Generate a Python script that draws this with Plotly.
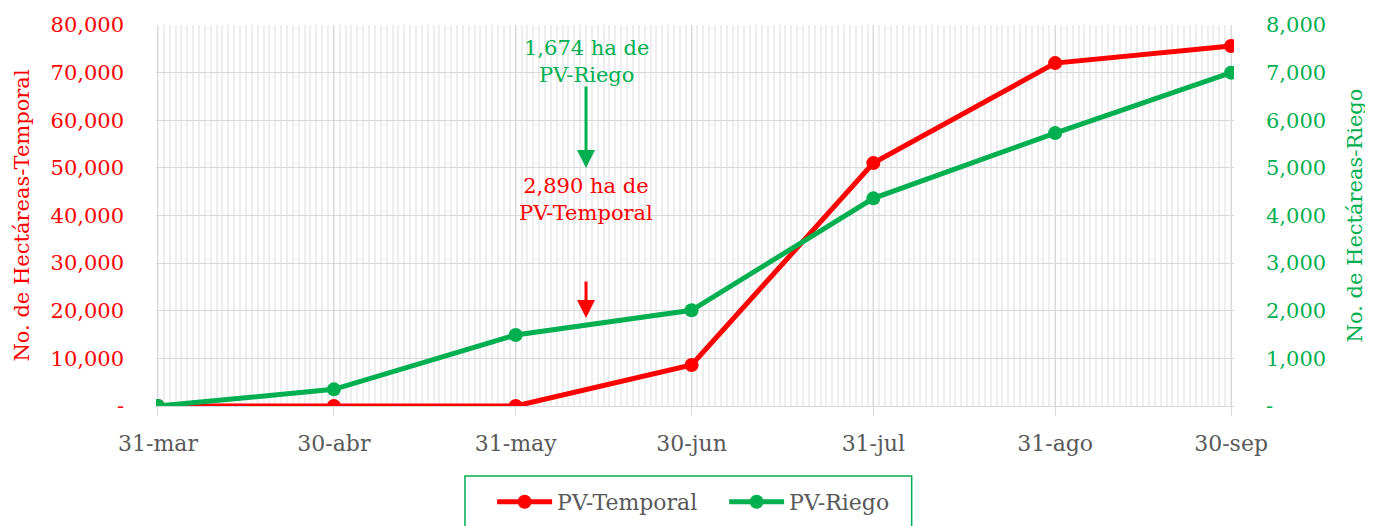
import plotly.graph_objects as go

# ---- data ----
dates = ['2023-03-31', '2023-04-30', '2023-05-31', '2023-06-30',
         '2023-07-31', '2023-08-31', '2023-09-30']
date_labels = ['31-mar', '30-abr', '31-may', '30-jun', '31-jul', '31-ago', '30-sep']
temporal = [0, 0, 0, 8600, 51000, 72000, 75600]
riego = [0, 350, 1490, 2010, 4360, 5730, 7000]

left_ticks = [0, 10000, 20000, 30000, 40000, 50000, 60000, 70000, 80000]
left_labels = ['-', '10,000', '20,000', '30,000', '40,000', '50,000', '60,000', '70,000', '80,000']
right_ticks = [0, 1000, 2000, 3000, 4000, 5000, 6000, 7000, 8000]
right_labels = ['-', '1,000', '2,000', '3,000', '4,000', '5,000', '6,000', '7,000', '8,000']

RED = '#FF0000'
GREEN = '#00B050'
GREY = '#595959'
FONT = 'DejaVu Serif'
FS = 21

fig = go.Figure()
fig.add_trace(go.Scatter(x=dates, y=temporal, name='PV-Temporal', mode='lines+markers',
                         line=dict(color=RED, width=5), marker=dict(color=RED, size=14)))
fig.add_trace(go.Scatter(x=dates, y=riego, name='PV-Riego', mode='lines+markers', yaxis='y2',
                         line=dict(color=GREEN, width=5), marker=dict(color=GREEN, size=14)))

fig.update_layout(
    width=1365, height=518,
    margin=dict(l=148, r=139, t=17, b=120, autoexpand=False),
    paper_bgcolor='white', plot_bgcolor='white',
    font=dict(family=FONT, size=FS, color=GREY),
    xaxis=dict(
        type='date', range=['2023-03-30 16:00', '2023-09-30 12:00'],
        tickvals=dates, ticktext=date_labels, automargin=False,
        showgrid=True, gridcolor='#d9d9d9', gridwidth=1,
        minor=dict(dtick=86400000, tick0='2023-03-31', showgrid=True,
                   gridcolor='#eeeeee', gridwidth=2),
        ticks='outside', ticklen=9, tickcolor='#d9d9d9',
        showline=True, linecolor='#d9d9d9',
        tickfont=dict(color=GREY, size=22), ticklabelstandoff=9,
    ),
    yaxis=dict(
        range=[0, 80000], tickvals=left_ticks, ticktext=left_labels, automargin=False,
        showgrid=True, gridcolor='#d9d9d9', gridwidth=1, zeroline=False,
        tickfont=dict(color=RED, size=FS), ticklabelstandoff=31,
        title=dict(text='No. de Hectáreas-Temporal', font=dict(color=RED, size=FS)),
    ),
    yaxis2=dict(
        range=[0, 8000], tickvals=right_ticks, ticktext=right_labels, automargin=False,
        overlaying='y', side='right', showgrid=False, zeroline=False,
        tickfont=dict(color=GREEN, size=FS), ticklabelstandoff=31,
        title=dict(text='No. de Hectáreas-Riego', font=dict(color=GREEN, size=FS), standoff=22),
    ),
    showlegend=True,
    legend=dict(orientation='h', x=0.527, xanchor='center', y=-0.252, yanchor='middle',
                font=dict(color=GREY, size=22), bgcolor='rgba(0,0,0,0)', itemwidth=55,
                entrywidth=162, entrywidthmode='pixels'),
)

# legend frame
fig.add_shape(type='rect', xref='paper', yref='paper', x0=0.2866, x1=0.701, y0=-0.40, y1=-0.1837,
              line=dict(color=GREEN, width=1.5), fillcolor='rgba(0,0,0,0)', layer='above')

# annotations
ann_x = '2023-06-12'
fig.add_annotation(x=ann_x, y=72240, xref='x', yref='y', text='1,674 ha de<br>PV-Riego',
                   showarrow=False, font=dict(color=GREEN, size=FS), yanchor='middle')
fig.add_annotation(x=ann_x, y=43260, xref='x', yref='y', text='2,890 ha de<br>PV-Temporal',
                   showarrow=False, font=dict(color=RED, size=FS), yanchor='middle')
fig.add_annotation(x=ann_x, y=49980, xref='x', yref='y', text='', showarrow=True,
                   ax=0, ay=-83, arrowhead=2, arrowsize=1.2, arrowwidth=3, arrowcolor=GREEN)
fig.add_annotation(x=ann_x, y=18480, xref='x', yref='y', text='', showarrow=True,
                   ax=0, ay=-38, arrowhead=2, arrowsize=1.2, arrowwidth=3, arrowcolor=RED)

fig.write_html('out.html')
